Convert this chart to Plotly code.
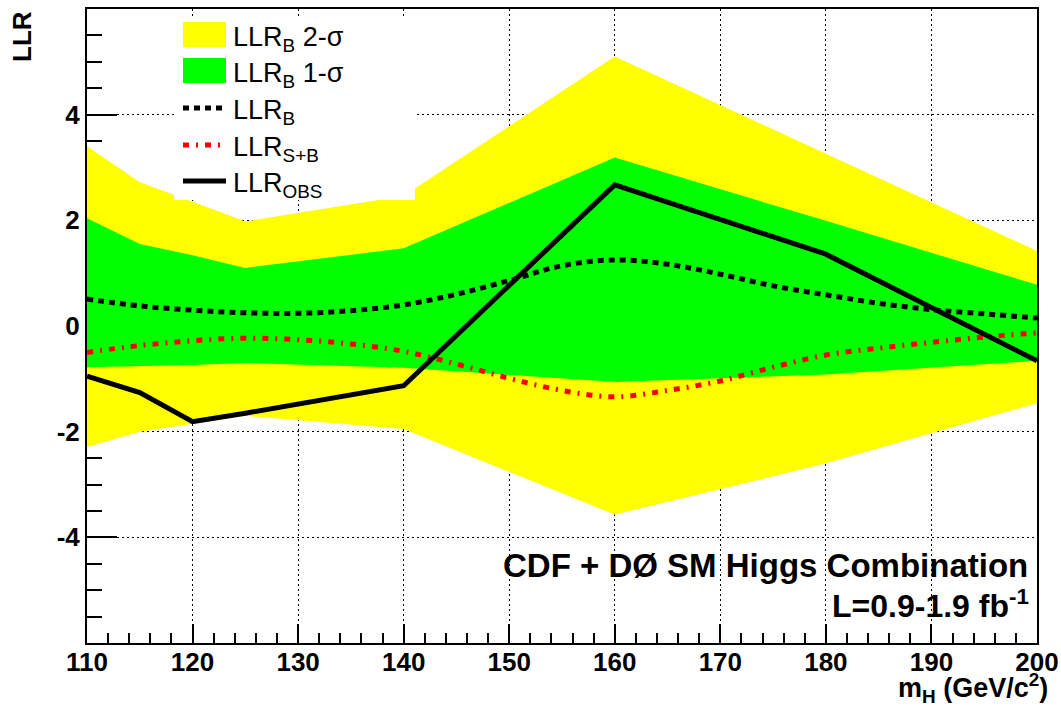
import plotly.graph_objects as go

# ---------------- data ----------------
mass_band = [110, 115, 120, 125, 140, 160, 180, 200]
band2_hi = [3.40, 2.72, 2.35, 1.98, 2.46, 5.10, 3.26, 1.42]
band2_lo = [-2.29, -2.00, -1.85, -1.70, -1.95, -3.57, -2.60, -1.46]
band1_hi = [2.04, 1.55, 1.34, 1.10, 1.47, 3.19, 1.99, 0.78]
band1_lo = [-0.78, -0.76, -0.74, -0.70, -0.79, -1.06, -0.92, -0.66]

mass_obs = [110, 115, 120, 125, 140, 160, 180, 200]
llr_obs = [-0.95, -1.26, -1.81, -1.65, -1.13, 2.67, 1.36, -0.66]

mass_exp = [110, 115, 120, 125, 130, 135, 140, 145, 150, 155,
            160, 165, 170, 175, 180, 185, 190, 195, 200]
llr_b = [0.51, 0.38, 0.30, 0.25, 0.24, 0.29, 0.40, 0.60, 0.86, 1.14,
         1.25, 1.17, 0.98, 0.76, 0.59, 0.43, 0.31, 0.23, 0.15]
llr_sb = [-0.50, -0.37, -0.28, -0.23, -0.26, -0.34, -0.48, -0.72, -0.99, -1.22,
          -1.34, -1.22, -1.04, -0.78, -0.55, -0.42, -0.31, -0.21, -0.13]

x_ticks = [110, 120, 130, 140, 150, 160, 170, 180, 190, 200]
x_ticklabels = ["110", "120", "130", "140", "150", "160", "170", "180", "190", "200"]
y_ticks = [-4, -2, 0, 2, 4]
y_ticklabels = ["-4", "-2", "0", "2", "4"]

legend_labels = ["LLR<sub>B</sub> 2-σ", "LLR<sub>B</sub> 1-σ", "LLR<sub>B</sub>",
                 "LLR<sub>S+B</sub>", "LLR<sub>OBS</sub>"]

# ---------------- styles ----------------
YELLOW = "#ffff00"
GREEN = "#00ff00"
FONT = "Liberation Sans"
W, H = 1061, 706
# plot frame in pixels
L, R, T, B = 87, 1037, 9, 643


def px_x(p):
    return (p - L) / (R - L)


def px_y(p):
    return (B - p) / (B - T)


fig = go.Figure()

# 2-sigma band
fig.add_trace(go.Scatter(x=mass_band, y=band2_lo, mode="lines", line=dict(width=0),
                         showlegend=False, hoverinfo="skip"))
fig.add_trace(go.Scatter(x=mass_band, y=band2_hi, mode="lines", line=dict(width=0),
                         fill="tonexty", fillcolor=YELLOW, showlegend=False, hoverinfo="skip"))
# 1-sigma band
fig.add_trace(go.Scatter(x=mass_band, y=band1_lo, mode="lines", line=dict(width=0),
                         showlegend=False, hoverinfo="skip"))
fig.add_trace(go.Scatter(x=mass_band, y=band1_hi, mode="lines", line=dict(width=0),
                         fill="tonexty", fillcolor=GREEN, showlegend=False, hoverinfo="skip"))

DASH_B = "6px,5px"
DASH_SB = "6px,7px,2px,7px"

fig.add_trace(go.Scatter(x=mass_exp, y=llr_b, mode="lines",
                         line=dict(color="black", width=5, dash=DASH_B, shape="spline", smoothing=1),
                         showlegend=False))
fig.add_trace(go.Scatter(x=mass_exp, y=llr_sb, mode="lines",
                         line=dict(color="#ff0000", width=5, dash=DASH_SB, shape="spline", smoothing=1),
                         showlegend=False))
fig.add_trace(go.Scatter(x=mass_obs, y=llr_obs, mode="lines",
                         line=dict(color="black", width=5),
                         showlegend=False))

# ---------------- legend (manual, ROOT style) ----------------
shapes = [
    dict(type="rect", xref="paper", yref="paper", x0=px_x(174), x1=px_x(415),
         y0=px_y(200), y1=px_y(16), fillcolor="white", line=dict(width=0), layer="above"),
    dict(type="rect", xref="paper", yref="paper", x0=px_x(183), x1=px_x(226),
         y0=px_y(47), y1=px_y(22), fillcolor=YELLOW, line=dict(width=0), layer="above"),
    dict(type="rect", xref="paper", yref="paper", x0=px_x(183), x1=px_x(226),
         y0=px_y(83), y1=px_y(58), fillcolor=GREEN, line=dict(width=0), layer="above"),
    dict(type="line", xref="paper", yref="paper", x0=px_x(183), x1=px_x(226),
         y0=px_y(108), y1=px_y(108), line=dict(color="black", width=5, dash=DASH_B), layer="above"),
    dict(type="line", xref="paper", yref="paper", x0=px_x(183), x1=px_x(226),
         y0=px_y(145), y1=px_y(145), line=dict(color="#ff0000", width=5, dash=DASH_SB), layer="above"),
    dict(type="line", xref="paper", yref="paper", x0=px_x(183), x1=px_x(226),
         y0=px_y(181), y1=px_y(181), line=dict(color="black", width=5), layer="above"),
]

row_y = [35, 71, 108, 145, 181]
annotations = []
for lab, yy in zip(legend_labels, row_y):
    annotations.append(dict(text=lab, xref="paper", yref="paper", x=px_x(231), y=px_y(yy + 4),
                            xanchor="left", yanchor="middle", showarrow=False,
                            font=dict(family=FONT, size=27, color="black")))

annotations += [
    dict(text="<b>CDF + DØ SM Higgs Combination</b>", xref="paper", yref="paper",
         x=px_x(1030), y=px_y(565), xanchor="right", yanchor="middle", showarrow=False,
         font=dict(family=FONT, size=33, color="black")),
    dict(text="<b>L=0.9-1.9 fb<sup>-1</sup></b>", xref="paper", yref="paper",
         x=px_x(1031), y=px_y(604), xanchor="right", yanchor="middle", showarrow=False,
         font=dict(family=FONT, size=32, color="black")),
    dict(text="<b>m<sub>H</sub> (GeV/c<sup>2</sup>)</b>", xref="paper", yref="paper",
         x=px_x(1050), y=px_y(709), xanchor="right", yanchor="bottom", showarrow=False,
         font=dict(family=FONT, size=27, color="black")),
    dict(text="<b>LLR</b>", xref="paper", yref="paper", textangle=-90,
         x=px_x(22), y=px_y(37), xanchor="center", yanchor="middle", showarrow=False,
         font=dict(family=FONT, size=26, color="black")),
]

axis_common = dict(
    showline=True, linecolor="black", linewidth=2, mirror=True,
    ticks="inside", tickcolor="black", tickwidth=2,
    showgrid=True, gridcolor="black", gridwidth=1, griddash="2px,3px",
    zeroline=False, layer="below traces", automargin=False,
    tickfont=dict(family=FONT, size=26, color="black", weight="bold"),
    tickmode="array", ticklabeloverflow="allow",
)

fig.update_layout(
    width=W, height=H, autosize=False,
    margin=dict(l=L, r=W - R, t=T, b=H - B, pad=0),
    paper_bgcolor="white", plot_bgcolor="white",
    shapes=shapes, annotations=annotations,
    xaxis=dict(range=[110, 200], tickvals=x_ticks, ticktext=x_ticklabels, ticklen=19,
               ticklabelstandoff=-5,
               minor=dict(tick0=110, dtick=2, ticks="inside", ticklen=10, tickcolor="black",
                          tickwidth=2, showgrid=False),
               **axis_common),
    yaxis=dict(range=[-6, 6], tickvals=y_ticks, ticktext=y_ticklabels, ticklen=30,
               minor=dict(tick0=0, dtick=0.5, ticks="inside", ticklen=15, tickcolor="black",
                          tickwidth=2, showgrid=False),
               **axis_common),
)

# remove the default page margin so the 1061x706 figure fills the window exactly
fig.write_html("out.html",
               config={"displayModeBar": False},
               post_script="document.body.style.margin='0';document.body.style.overflow='hidden';")
